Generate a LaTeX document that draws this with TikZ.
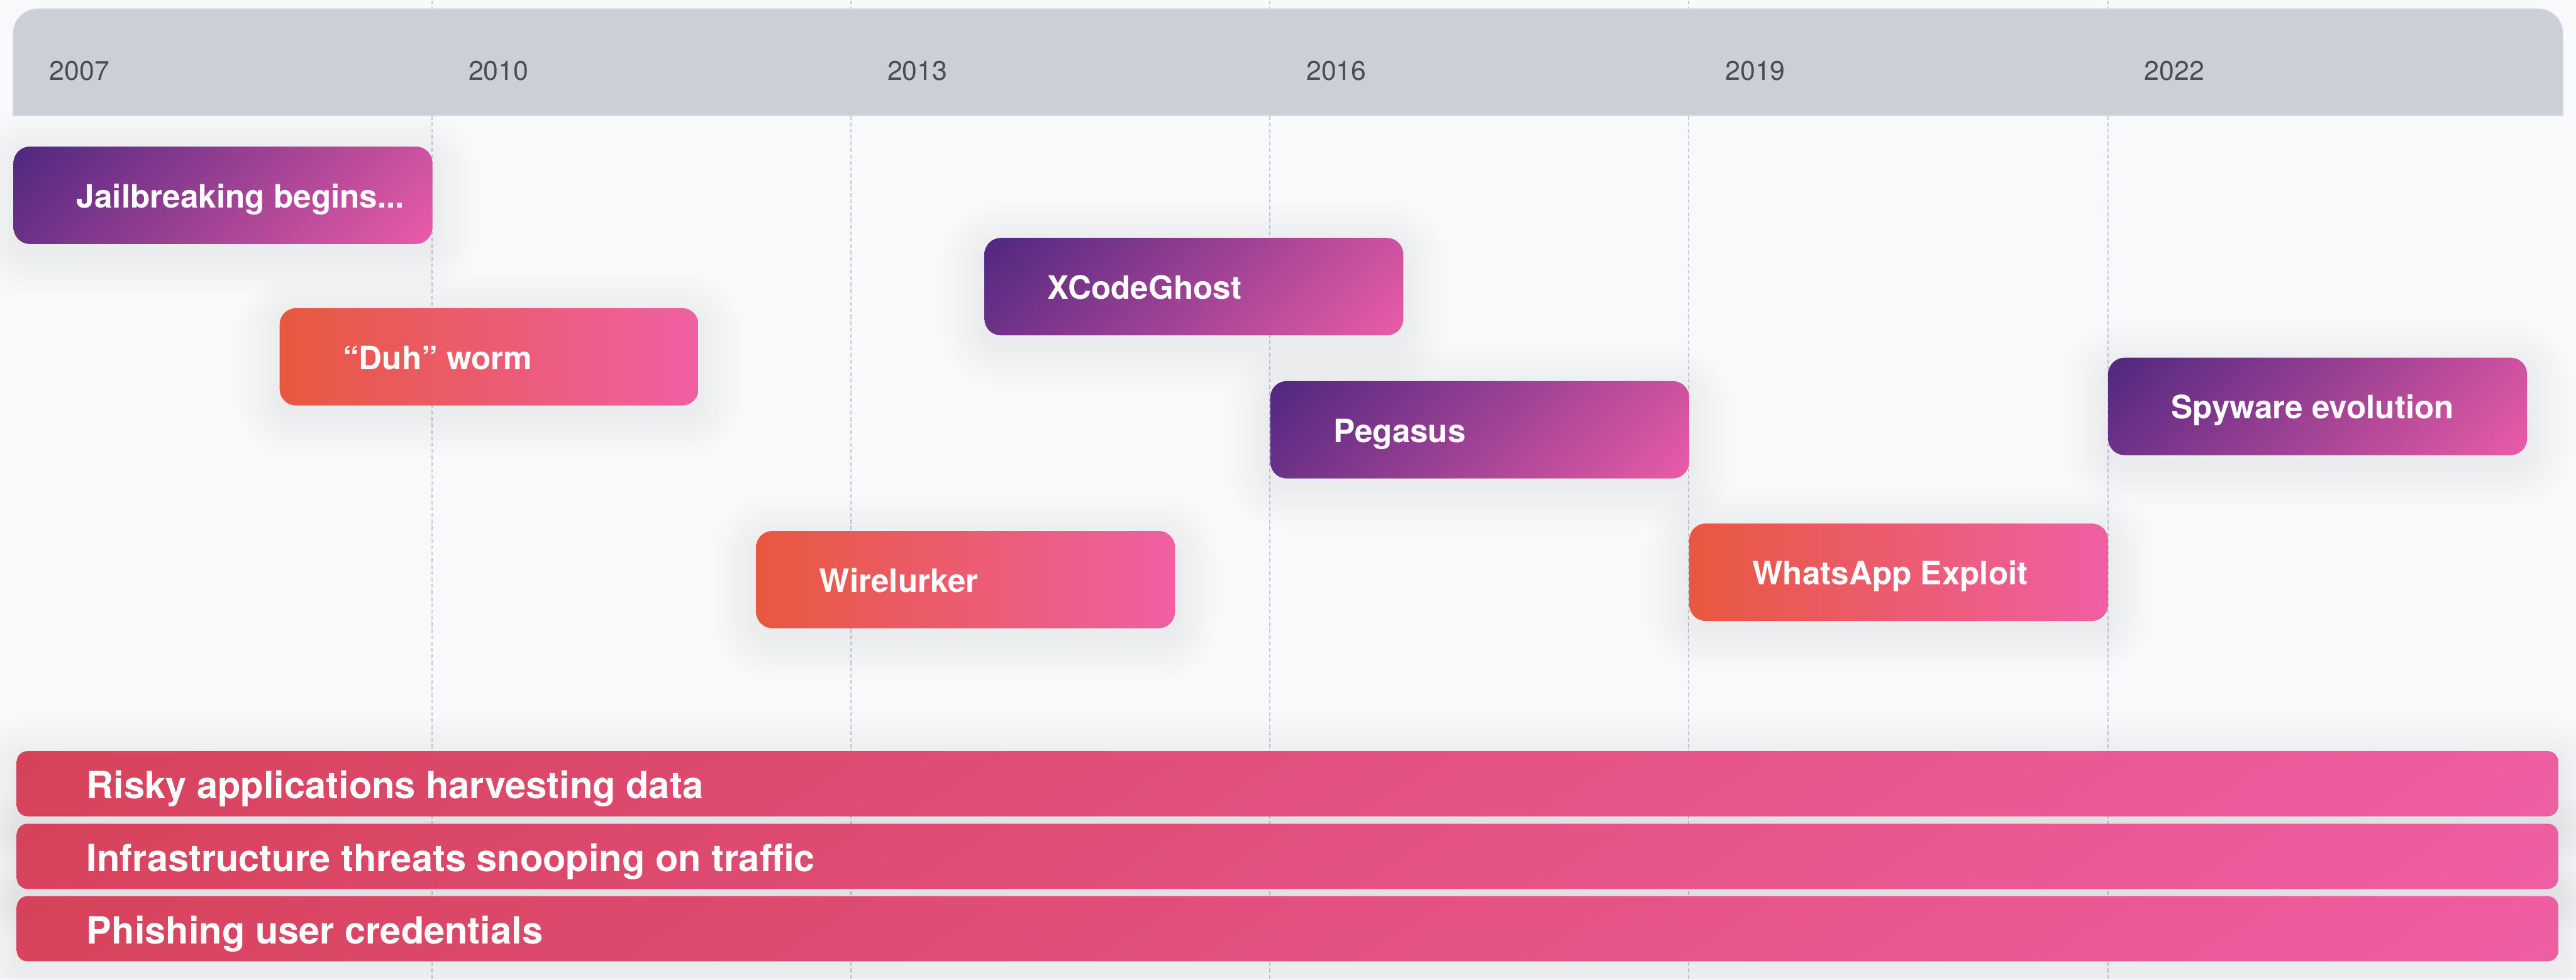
\documentclass[tikz,border=0pt]{standalone}
\usepackage{fontspec}
\setmainfont{TeX Gyre Heros}
\usetikzlibrary{calc,shadings}

% palette
\definecolor{PageBg}{HTML}{F8F9FA}
\definecolor{HeadFill}{HTML}{CBCFD8}
\definecolor{HeadEdge}{HTML}{D8DBE1}
\definecolor{YearInk}{HTML}{494D57}
\definecolor{GridGray}{HTML}{C6CAD1}
\definecolor{PurA}{HTML}{4F2780}
\definecolor{PurB}{HTML}{EA5CA7}
\colorlet{PurTR}{PurB!81!PurA}
\colorlet{PurBL}{PurB!19!PurA}
\definecolor{OrA}{HTML}{E8583F}
\definecolor{OrB}{HTML}{EF5FA3}
\definecolor{BarA}{HTML}{D7425A}
\definecolor{BarB}{HTML}{EE5EA3}
\colorlet{BarTR}{BarB!96!BarA}
\colorlet{BarBL}{BarB!4!BarA}

\pgfdeclarelayer{canvas}
\pgfdeclarelayer{glow}
\pgfsetlayers{canvas,glow,main}

% soft glow behind a node: stacked, slightly transparent rounded rectangles
\newcommand\glowbehind[2]{%
  \begin{pgfonlayer}{glow}
    \foreach \d in {2,4,...,26}{%
      \fill[black, fill opacity=0.0055, rounded corners={#2+\d pt}]
        ($(#1.north west)+(-\d,-\d+5)$) rectangle ($(#1.south east)+(\d,\d+5)$);}
  \end{pgfonlayer}}

\tikzset{
  gridline/.style={GridGray, line width=0.8pt, dash pattern=on 2.4pt off 1.5pt},
  yearlabel/.style={anchor=base west, inner sep=0pt, text=YearInk,
      font=\fontsize{16.4}{19}\selectfont},
  evbox/.style={rectangle, rounded corners=10pt, minimum width=255pt,
      minimum height=59.3pt, inner sep=0pt, anchor=north west},
  purplebox/.style={evbox, shade, upper left=PurA, upper right=PurTR,
      lower left=PurBL, lower right=PurB},
  orangebox/.style={evbox, shade, left color=OrA, right color=OrB},
  evlabel/.style={anchor=base west, inner sep=0pt, text=white,
      font=\fontsize{19.6}{23}\selectfont\bfseries},
  barbox/.style={rectangle, rounded corners=6.5pt, minimum width=1547pt,
      minimum height=39.7pt, inner sep=0pt, anchor=north west,
      shade, upper left=BarA, upper right=BarTR, lower left=BarBL,
      lower right=BarB},
  barlabel/.style={anchor=base west, inner sep=0pt, text=white,
      font=\fontsize{22.8}{27}\selectfont\bfseries},
}

\begin{document}
\begin{tikzpicture}[x=1pt, y=-1pt]
  \begin{pgfonlayer}{canvas}
    \fill[PageBg] (0,0) rectangle (1568,595.4);
    % column separators
    \foreach \k in {1,...,5}
      \draw[gridline] ({8+255*\k},0) -- ({8+255*\k},595.4);
  \end{pgfonlayer}
  \useasboundingbox (0,0) rectangle (1568,595.4);

  % year header
  \path[fill=HeadFill, draw=HeadEdge, line width=0.5pt]
    (8,70) {[rounded corners=15pt] -- (8,5) -- (1560,5)} -- (1560,70) -- cycle;
  \foreach \yr [count=\k from 0] in {2007,2010,2013,2016,2019,2022}
    \node[yearlabel] (yr\yr) at ({30+255*\k},48.3) {\yr};

  % events
  \node[purplebox] (jail) at (8,88.6) {};
  \node[evlabel] (jailtxt) at ($(jail.west)+(38.5,7.6)$) {Jailbreaking begins...};

  \node[orangebox] (duh) at (170,186.9) {};
  \node[evlabel] (duhtxt) at ($(duh.west)+(38.5,7.6)$) {“Duh” worm};

  \node[purplebox] (xcg) at (599,144.2) {};
  \node[evlabel] (xcgtxt) at ($(xcg.west)+(38.5,7.6)$) {XCodeGhost};

  \node[purplebox] (peg) at (773,231.3) {};
  \node[evlabel] (pegtxt) at ($(peg.west)+(38.5,7.6)$) {Pegasus};

  \node[purplebox] (spy) at (1283,217.1) {};
  \node[evlabel] (spytxt) at ($(spy.west)+(38.5,7.6)$) {Spyware evolution};

  \node[orangebox] (wire) at (460,322.5) {};
  \node[evlabel] (wiretxt) at ($(wire.west)+(38.5,7.6)$) {Wirelurker};

  \node[orangebox] (wapp) at (1028,318) {};
  \node[evlabel] (wapptxt) at ($(wapp.west)+(38.5,7.6)$) {WhatsApp Exploit};

  \foreach \n in {jail,duh,xcg,peg,spy,wire,wapp}{\glowbehind{\n}{10pt}}

  % ongoing threat bands
  \node[barbox] (risky) at (10,456.5) {};
  \node[barlabel] (riskytxt) at ($(risky.west)+(42.6,9.1)$) {Risky applications harvesting data};

  \node[barbox] (infra) at (10,500.7) {};
  \node[barlabel] (infratxt) at ($(infra.west)+(42.6,9.1)$) {Infrastructure threats snooping on traffic};

  \node[barbox] (phish) at (10,544.8) {};
  \node[barlabel] (phishtxt) at ($(phish.west)+(42.6,9.1)$) {Phishing user credentials};

  \foreach \n in {risky,infra,phish}{\glowbehind{\n}{6.5pt}}
\end{tikzpicture}
\end{document}
